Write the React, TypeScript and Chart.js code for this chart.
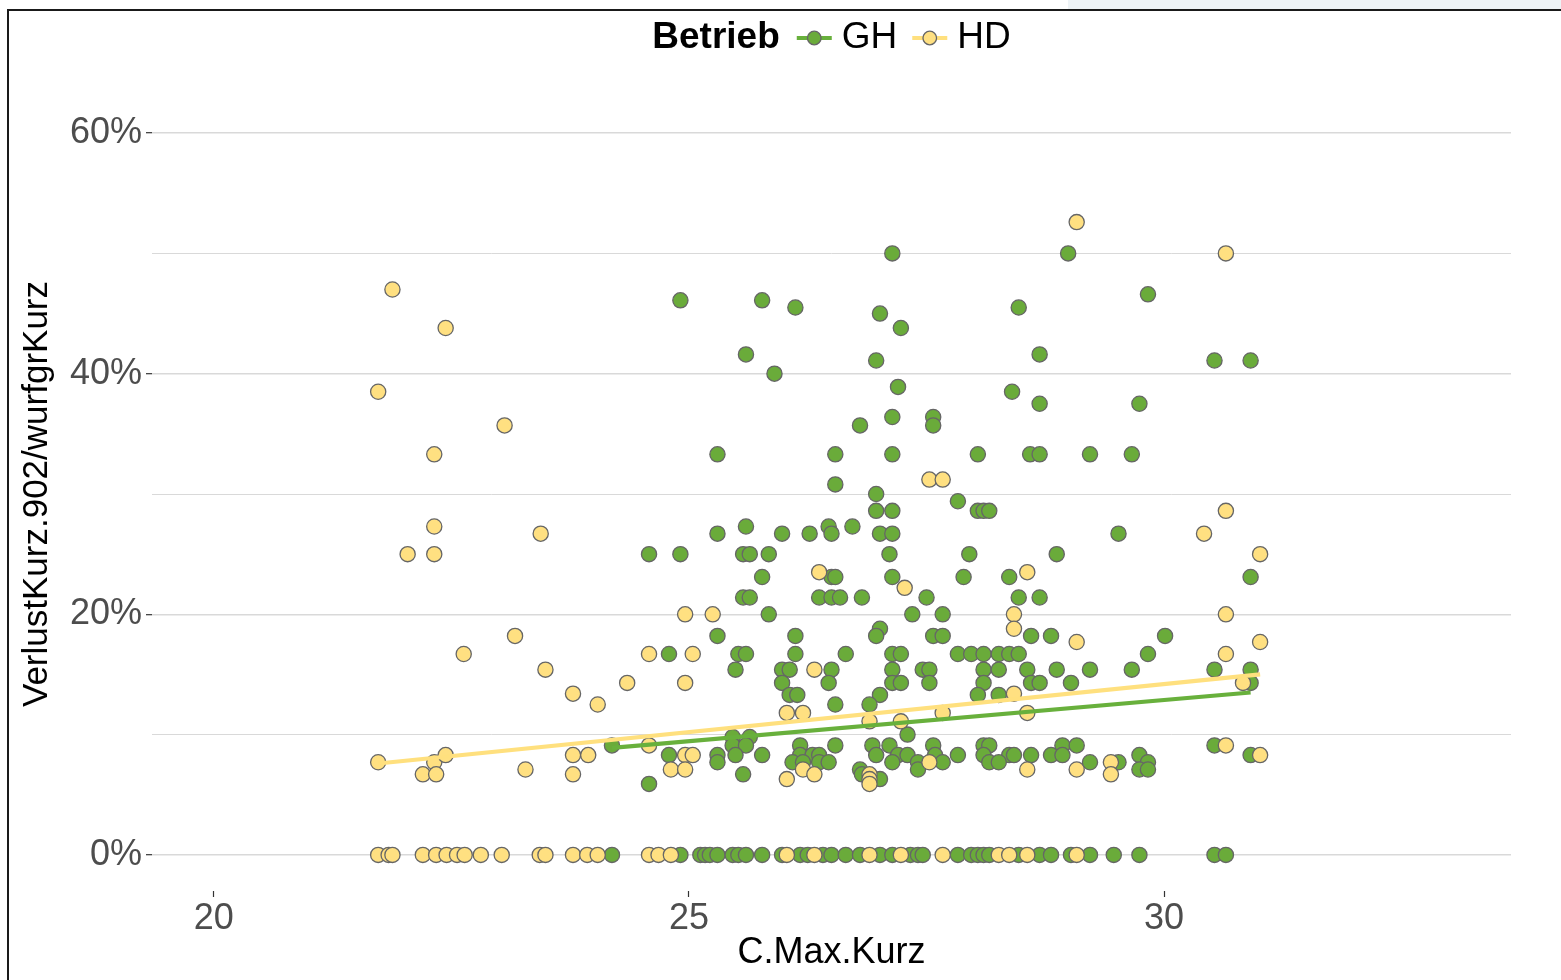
import React, { useEffect, useRef } from "react";
import { Chart, registerables } from "chart.js";

Chart.register(...registerables);

// ---------- data ----------
const seriesNames = ["GH", "HD"];
const legendTitle = "Betrieb";
const xTitle = "C.Max.Kurz";
const yTitle = "VerlustKurz.902/wurfgrKurz";

const xTicks = [20, 25, 30];
const yTicks = [0, 10, 20, 30, 40, 50, 60];
const yLabelTicks = [0, 20, 40, 60];

// GH: [C.Max.Kurz, Verlust %]
const ghPoints: number[][] = [
  [24.91, 46.1], [25.77, 46.1], [26.12, 45.5], [27.14, 50.0], [27.01, 45.0], [27.23, 43.8], [25.6, 41.6],
  [26.97, 41.1], [25.9, 40.0], [27.2, 38.9], [26.8, 35.7], [27.14, 36.4], [27.57, 36.4], [27.57, 35.7],
  [25.3, 33.3], [26.54, 33.3], [27.14, 33.3], [26.54, 30.8], [26.97, 30.0], [26.97, 28.6], [27.14, 28.6],
  [28.99, 50.0], [29.83, 46.6], [28.47, 45.5], [28.69, 41.6], [30.53, 41.1], [30.91, 41.1], [28.4, 38.5],
  [28.69, 37.5], [29.74, 37.5], [28.04, 33.3], [28.59, 33.3], [28.69, 33.3], [29.22, 33.3], [29.66, 33.3],
  [27.83, 29.4], [28.04, 28.6], [28.1, 28.6], [28.16, 28.6], [29.52, 26.7],
  [25.3, 26.7], [25.6, 27.3], [25.98, 26.7], [26.27, 26.7], [26.47, 27.3], [26.5, 26.7], [26.72, 27.3],
  [27.01, 26.7], [27.14, 26.7],
  [24.58, 25.0], [24.91, 25.0], [25.57, 25.0], [25.64, 25.0], [25.84, 25.0], [27.11, 25.0], [27.95, 25.0], [28.87, 25.0],
  [25.77, 23.1], [26.5, 23.1], [26.54, 23.1], [27.14, 23.1], [27.89, 23.1], [28.37, 23.1], [30.91, 23.1],
  [25.57, 21.4], [25.64, 21.4], [26.37, 21.4], [26.5, 21.4], [26.59, 21.4], [26.82, 21.4], [27.5, 21.4],
  [28.47, 21.4], [28.69, 21.4],
  [25.84, 20.0], [27.35, 20.0], [27.67, 20.0], [27.01, 18.8],
  [25.3, 18.2], [26.12, 18.2], [26.97, 18.2], [27.57, 18.2], [27.67, 18.2], [28.6, 18.2], [28.81, 18.2], [30.01, 18.2],
  [24.79, 16.7], [25.52, 16.7], [25.6, 16.7], [26.12, 16.7], [26.65, 16.7], [27.14, 16.7], [27.23, 16.7],
  [27.83, 16.7], [27.97, 16.7], [28.1, 16.7], [28.26, 16.7], [28.37, 16.7], [28.47, 16.7], [29.83, 16.7],
  [25.49, 15.4], [25.98, 15.4], [26.06, 15.4], [26.5, 15.4], [27.14, 15.4], [27.46, 15.4], [27.53, 15.4],
  [28.1, 15.4], [28.26, 15.4], [28.56, 15.4], [28.87, 15.4], [29.22, 15.4], [29.66, 15.4], [30.53, 15.4], [30.91, 15.4],
  [25.98, 14.3], [26.47, 14.3], [27.14, 14.3], [27.23, 14.3], [27.53, 14.3], [28.1, 14.3], [28.6, 14.3],
  [28.69, 14.3], [29.02, 14.3], [30.91, 14.3],
  [26.06, 13.3], [26.14, 13.3], [27.01, 13.3], [28.04, 13.3], [28.26, 13.3],
  [26.54, 12.5], [26.9, 12.5], [27.3, 10.0], [25.46, 9.8], [25.64, 9.8],
  [24.19, 9.1], [25.46, 9.1], [25.6, 9.1], [26.17, 9.1], [26.54, 9.1], [26.93, 9.1], [27.11, 9.1], [27.57, 9.1],
  [28.1, 9.1], [28.16, 9.1], [28.93, 9.1], [29.08, 9.1], [30.53, 9.1],
  [24.79, 8.3], [25.3, 8.3], [25.49, 8.3], [25.77, 8.3], [26.17, 8.3], [26.3, 8.3], [26.37, 8.3], [26.97, 8.3],
  [27.2, 8.3], [27.3, 8.3], [27.59, 8.3], [27.83, 8.3], [28.1, 8.3], [28.37, 8.3], [28.42, 8.3], [28.6, 8.3],
  [28.81, 8.3], [28.93, 8.3], [29.74, 8.3], [30.91, 8.3],
  [25.3, 7.7], [26.09, 7.7], [26.2, 7.7], [26.37, 7.7], [26.47, 7.7], [27.14, 7.7], [27.41, 7.7], [27.67, 7.7],
  [28.16, 7.7], [28.26, 7.7], [29.22, 7.7], [29.52, 7.7], [29.83, 7.7],
  [26.8, 7.1], [27.41, 7.1], [29.74, 7.1], [29.83, 7.1],
  [25.57, 6.7], [26.82, 6.7], [27.01, 6.3], [24.58, 5.9],
  [24.19, 0], [24.91, 0], [25.12, 0], [25.17, 0], [25.22, 0], [25.3, 0], [25.46, 0], [25.52, 0], [25.6, 0],
  [25.77, 0], [25.98, 0], [26.17, 0], [26.25, 0], [26.41, 0], [26.5, 0], [26.65, 0], [26.8, 0], [27.01, 0],
  [27.14, 0], [27.33, 0], [27.41, 0], [27.46, 0], [27.83, 0], [27.97, 0], [28.04, 0], [28.1, 0], [28.16, 0],
  [28.47, 0], [28.69, 0], [28.81, 0], [29.02, 0], [29.22, 0], [29.47, 0], [29.74, 0], [30.53, 0], [30.65, 0],
];

// HD: [C.Max.Kurz, Verlust %]
const hdPoints: number[][] = [
  [21.73, 38.5], [21.88, 47.0], [22.44, 43.8], [22.32, 33.3], [22.32, 27.3], [22.04, 25.0], [22.32, 25.0],
  [23.06, 35.7], [23.44, 26.7], [23.17, 18.2], [22.63, 16.7], [23.49, 15.4], [23.78, 13.4], [24.04, 12.5],
  [24.35, 14.3], [21.73, 7.7], [22.32, 7.7], [22.44, 8.3], [22.2, 6.7], [22.34, 6.7], [23.28, 7.1],
  [23.78, 8.3], [23.94, 8.3], [23.78, 6.7], [24.58, 9.1], [24.58, 16.7], [25.04, 16.7], [24.96, 20.0],
  [25.25, 20.0], [24.96, 14.3], [24.96, 8.3], [25.04, 8.3], [24.81, 7.1], [24.96, 7.1],
  [26.37, 23.5], [27.27, 22.2], [27.53, 31.2], [27.67, 31.2], [26.32, 15.4], [26.03, 11.8], [26.2, 11.8],
  [26.9, 11.1], [27.23, 11.1], [26.2, 7.1], [26.32, 6.7], [26.9, 6.7], [26.03, 6.3], [26.9, 6.3], [26.9, 5.9],
  [27.67, 11.8], [27.53, 7.7],
  [29.08, 52.6], [30.65, 50.0], [30.65, 28.6], [30.42, 26.7], [31.01, 25.0], [28.56, 23.5], [28.42, 20.0],
  [28.42, 18.8], [29.08, 17.7], [31.01, 17.7], [30.65, 16.7], [28.42, 13.4], [28.56, 11.8], [30.83, 14.3],
  [30.65, 20.0], [30.65, 9.1], [31.01, 8.3], [29.44, 7.7], [29.44, 6.7], [28.56, 7.1], [29.08, 7.1],
  [21.73, 0], [21.84, 0], [21.88, 0], [22.2, 0], [22.34, 0], [22.45, 0], [22.56, 0], [22.64, 0], [22.81, 0],
  [23.03, 0], [23.43, 0], [23.49, 0], [23.78, 0], [23.93, 0], [24.04, 0], [24.58, 0], [24.68, 0], [24.81, 0],
  [26.03, 0], [26.32, 0], [26.9, 0], [27.23, 0], [27.67, 0], [28.26, 0], [28.37, 0], [28.56, 0], [29.08, 0],
];

// linear fit lines (end points)
const ghFitX = [24.19, 30.91];
const ghFitY = [8.9, 13.5];
const hdFitX = [21.73, 31.01];
const hdFitY = [7.6, 15.0];

// ---------- styling ----------
const GREEN = "#6aab3a";
const YELLOW = "#ffe081";
const GREEN_LINE = "#68b03c";
const YELLOW_LINE = "#ffe07e";
const POINT_BORDER = "#666666";
const FONT = "'Liberation Sans', Arial, sans-serif";

const toXY = (pts: number[][]) => pts.map(([x, y]) => ({ x, y }));
const fitXY = (xs: number[], ys: number[]) => xs.map((x, i) => ({ x, y: ys[i] }));

const legendPlugin = {
  id: "ggLegend",
  afterDraw(chart: any) {
    const { ctx, chartArea } = chart;
    const cy = 38;
    const size = 37;
    ctx.save();
    ctx.textBaseline = "middle";
    ctx.font = `bold ${size}px ${FONT}`;
    const titleW = ctx.measureText(legendTitle).width;
    ctx.font = `${size}px ${FONT}`;
    const labelW = seriesNames.map((n) => ctx.measureText(n).width);
    const keyW = 39;
    const gapTitle = 15;
    const gapKey = 8;
    const gapItem = 13;
    const total = titleW + gapTitle + keyW + gapKey + labelW[0] + gapItem + keyW + gapKey + labelW[1];
    let x = (chartArea.left + chartArea.right) / 2 - total / 2;
    ctx.fillStyle = "#000";
    ctx.font = `bold ${size}px ${FONT}`;
    ctx.fillText(legendTitle, x, cy);
    x += titleW + gapTitle;
    const keys = [
      { line: GREEN_LINE, fill: GREEN },
      { line: YELLOW_LINE, fill: YELLOW },
    ];
    keys.forEach((k, i) => {
      ctx.strokeStyle = k.line;
      ctx.lineWidth = 4;
      ctx.beginPath();
      ctx.moveTo(x + 2, cy);
      ctx.lineTo(x + keyW - 2, cy);
      ctx.stroke();
      ctx.beginPath();
      ctx.arc(x + keyW / 2, cy, 6.8, 0, Math.PI * 2);
      ctx.fillStyle = k.fill;
      ctx.fill();
      ctx.lineWidth = 1.3;
      ctx.strokeStyle = POINT_BORDER;
      ctx.stroke();
      x += keyW + gapKey;
      ctx.fillStyle = "#000";
      ctx.font = `${size}px ${FONT}`;
      ctx.fillText(seriesNames[i], x, cy);
      x += labelW[i] + gapItem;
    });
    ctx.restore();
  },
};

export default function App() {
  const canvasRef = useRef<HTMLCanvasElement | null>(null);

  useEffect(() => {
    if (!canvasRef.current) return;
    const chart = new Chart(canvasRef.current, {
      type: "scatter",
      data: {
        datasets: [
          {
            label: "GH fit",
            data: fitXY(ghFitX, ghFitY),
            showLine: true,
            borderColor: GREEN_LINE,
            borderWidth: 4.2,
            pointRadius: 0,
            fill: false,
          },
          {
            label: "HD fit",
            data: fitXY(hdFitX, hdFitY),
            showLine: true,
            borderColor: YELLOW_LINE,
            borderWidth: 4.2,
            pointRadius: 0,
            fill: false,
          },
          {
            label: seriesNames[1],
            data: toXY(hdPoints),
            backgroundColor: YELLOW,
            borderColor: POINT_BORDER,
            borderWidth: 1.3,
            pointRadius: 7.6,
          },
          {
            label: seriesNames[0],
            data: toXY(ghPoints),
            backgroundColor: GREEN,
            borderColor: POINT_BORDER,
            borderWidth: 1.3,
            pointRadius: 7.6,
          },
        ],
      },
      options: {
        responsive: false,
        animation: false,
        devicePixelRatio: 1,
        events: [],
        layout: { padding: { top: 97, right: 50, left: 0, bottom: 0 } },
        plugins: {
          legend: { display: false },
          tooltip: { enabled: false },
        },
        scales: {
          x: {
            type: "linear",
            min: 19.35,
            max: 33.65,
            afterBuildTicks: (s: any) => {
              s.ticks = xTicks.map((v) => ({ value: v }));
            },
            afterFit: (s: any) => {
              s.height = 89;
            },
            border: { display: false },
            grid: {
              drawOnChartArea: false,
              drawTicks: true,
              tickLength: 6,
              tickColor: "#333333",
              tickWidth: 1.2,
            },
            ticks: {
              color: "#4d4d4d",
              font: { family: FONT, size: 36 },
              padding: 0,
              maxRotation: 0,
              autoSkip: false,
            },
            title: {
              display: true,
              text: xTitle,
              color: "#000",
              font: { family: FONT, size: 36 },
              padding: { top: 0, bottom: 5 },
            },
          },
          y: {
            type: "linear",
            min: -3,
            max: 63,
            afterBuildTicks: (s: any) => {
              s.ticks = yTicks.map((v) => ({ value: v }));
            },
            afterFit: (s: any) => {
              s.width = 152;
            },
            border: { display: false },
            grid: {
              color: "#d9d9d9",
              lineWidth: (c: any) => (yLabelTicks.includes(c.tick?.value) ? 1.4 : 1.0),
              tickLength: 6,
              tickColor: (c: any) => (yLabelTicks.includes(c.tick?.value) ? "#333333" : "rgba(0,0,0,0)"),
              tickWidth: 1.2,
            },
            ticks: {
              color: "#4d4d4d",
              font: { family: FONT, size: 36 },
              padding: 4,
              autoSkip: false,
              callback: (v: any) => (yLabelTicks.includes(v) ? `${v}%` : ""),
            },
            title: {
              display: true,
              text: yTitle,
              color: "#000",
              font: { family: FONT, size: 35 },
              padding: { top: 16, bottom: 0 },
            },
          },
        },
      },
      plugins: [legendPlugin],
    } as any);
    return () => chart.destroy();
  }, []);

  return (
    <div
      style={{
        position: "fixed",
        left: 0,
        top: 0,
        width: 1561,
        height: 980,
        background: "#fff",
        overflow: "hidden",
      }}
    >
      <div
        style={{
          position: "absolute",
          left: 1068,
          top: 0,
          width: 493,
          height: 9,
          background: "#eef3f6",
        }}
      />
      <div
        style={{
          position: "absolute",
          left: 7,
          top: 9,
          width: 1600,
          height: 1000,
          borderTop: "2px solid #1a1a1a",
          borderLeft: "2px solid #1a1a1a",
        }}
      />
      <canvas
        ref={canvasRef}
        width={1561}
        height={980}
        style={{ position: "absolute", left: 0, top: 0, width: 1561, height: 980 }}
      />
    </div>
  );
}
